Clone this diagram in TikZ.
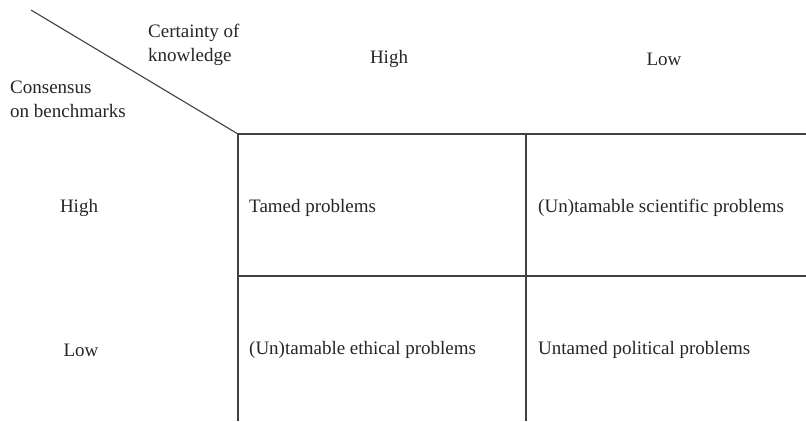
\documentclass[tikz,border=0pt]{standalone}
\usepackage{fontspec}
\setmainfont{Liberation Serif}
\begin{document}
\begin{tikzpicture}[x=1pt,y=-1pt,
  gridline/.style={line width=1.1pt,draw=black!75},
  lbl/.style={font=\fontsize{19}{24}\selectfont,text=black!85,inner sep=0pt},
  cell/.style={lbl,anchor=west},
  hdr/.style={lbl,align=left}]
\useasboundingbox (0,0) rectangle (806,421);
\fill[white] (0,0) rectangle (806,421);
% grid coordinates
\coordinate (d0) at (31,10);
\coordinate (c) at (238,134);
\coordinate (tr) at (806,134);
\coordinate (m1) at (526,134);
\coordinate (m1b) at (526,421);
\coordinate (cb) at (238,421);
\coordinate (ml) at (238,276);
\coordinate (mr) at (806,276);
\draw[gridline] (d0) -- (c);
\draw[gridline] (c) -- (tr);
\draw[gridline] (c) -- (cb);
\draw[gridline] (m1) -- (m1b);
\draw[gridline] (ml) -- (mr);
% headers
\node[hdr,anchor=west] (cert) at (148,45) {Certainty of\\knowledge};
\node[hdr,anchor=west] (cons) at (10,99) {Consensus\\on benchmarks};
\node[lbl] (chigh) at (389,59) {High};
\node[lbl] (clow) at (664,59) {Low};
\node[lbl] (rhigh) at (79,208) {High};
\node[lbl] (rlow) at (81,350) {Low};
% cells
\node[cell] (t1) at (249,208) {Tamed problems};
\node[cell] (t2) at (538,208) {(Un)tamable scientific problems};
\node[cell] (t3) at (249,350) {(Un)tamable ethical problems};
\node[cell] (t4) at (538,350) {Untamed political problems};
\end{tikzpicture}
\end{document}
